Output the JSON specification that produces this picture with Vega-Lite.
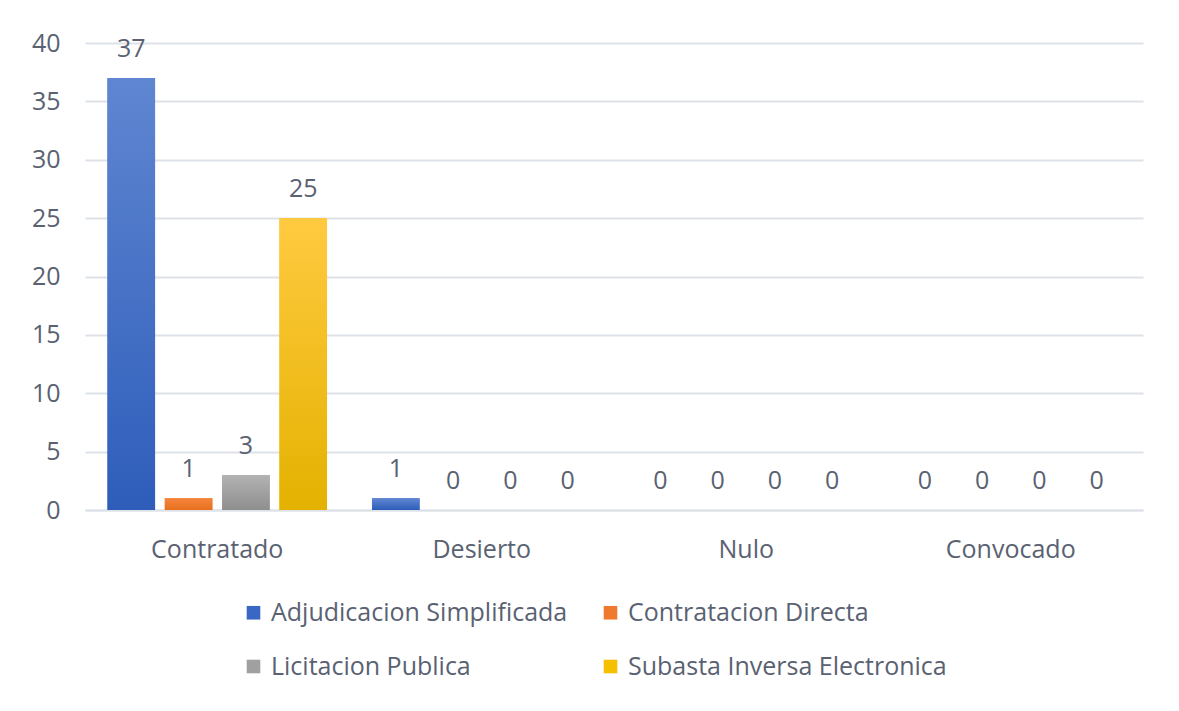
{
  "$schema": "https://vega.github.io/schema/vega-lite/v6.json",
  "width": 1058,
  "height": 467,
  "autosize": {"type": "none"},
  "padding": {"left": 85, "top": 43, "right": 36, "bottom": 201},
  "background": "white",
  "config": {
    "view": {"stroke": null},
    "font": "Open Sans",
    "axis": {"labelFont": "Open Sans", "labelFontSize": 25, "labelColor": "#5a6272"},
    "legend": {"labelFont": "Open Sans", "labelFontSize": 25, "labelColor": "#5a6272"}
  },
  "data": {
    "values": [
      {"estado": "Contratado", "modalidad": "Adjudicacion Simplificada", "n": 37},
      {"estado": "Contratado", "modalidad": "Contratacion Directa", "n": 1},
      {"estado": "Contratado", "modalidad": "Licitacion Publica", "n": 3},
      {"estado": "Contratado", "modalidad": "Subasta Inversa Electronica", "n": 25},
      {"estado": "Desierto", "modalidad": "Adjudicacion Simplificada", "n": 1},
      {"estado": "Desierto", "modalidad": "Contratacion Directa", "n": 0},
      {"estado": "Desierto", "modalidad": "Licitacion Publica", "n": 0},
      {"estado": "Desierto", "modalidad": "Subasta Inversa Electronica", "n": 0},
      {"estado": "Nulo", "modalidad": "Adjudicacion Simplificada", "n": 0},
      {"estado": "Nulo", "modalidad": "Contratacion Directa", "n": 0},
      {"estado": "Nulo", "modalidad": "Licitacion Publica", "n": 0},
      {"estado": "Nulo", "modalidad": "Subasta Inversa Electronica", "n": 0},
      {"estado": "Convocado", "modalidad": "Adjudicacion Simplificada", "n": 0},
      {"estado": "Convocado", "modalidad": "Contratacion Directa", "n": 0},
      {"estado": "Convocado", "modalidad": "Licitacion Publica", "n": 0},
      {"estado": "Convocado", "modalidad": "Subasta Inversa Electronica", "n": 0}
    ]
  },
  "encoding": {
    "x": {
      "field": "estado", "type": "nominal", "sort": null, "title": null,
      "scale": {"paddingInner": 0.17, "paddingOuter": 0.085},
      "axis": {"labelAngle": 0, "ticks": false, "domain": true, "domainColor": "#dde1e8", "domainWidth": 2, "labelPadding": 27}
    },
    "xOffset": {
      "field": "modalidad", "type": "nominal", "sort": null,
      "scale": {"paddingInner": 0.17, "paddingOuter": 0}
    },
    "y": {
      "field": "n", "type": "quantitative", "title": null,
      "scale": {"domain": [0, 40], "nice": false},
      "axis": {"values": [0, 5, 10, 15, 20, 25, 30, 35, 40], "domain": false, "ticks": false, "gridColor": "#dde1e8", "gridWidth": 2, "labelPadding": 25}
    }
  },
  "layer": [
    {
      "mark": {"type": "bar"},
      "encoding": {
        "color": {
          "field": "modalidad", "type": "nominal", "sort": null, "title": null,
          "scale": {"range": ["#3a67c4", "#ef7a2f", "#a0a0a0", "#f5c000"]},
          "legend": {
            "orient": "none", "legendX": 156, "legendY": 557,
            "direction": "horizontal",
            "columns": 2, "symbolType": "square", "symbolSize": 185,
            "symbolStrokeWidth": 0, "rowPadding": 28, "columnPadding": 30,
            "labelOffset": 5, "labelLimit": 0
          }
        }
      }
    },
    {
      "transform": [{"filter": "datum.modalidad === 'Adjudicacion Simplificada'"}],
      "mark": {"type": "bar",
        "color": {"gradient": "linear", "x1": 0, "y1": 0, "x2": 0, "y2": 1,
          "stops": [{"offset": 0, "color": "#5f86d1"}, {"offset": 1, "color": "#2e5dba"}]}}
    },
    {
      "transform": [{"filter": "datum.modalidad === 'Contratacion Directa'"}],
      "mark": {"type": "bar",
        "color": {"gradient": "linear", "x1": 0, "y1": 0, "x2": 0, "y2": 1,
          "stops": [{"offset": 0, "color": "#f5843c"}, {"offset": 1, "color": "#e6701f"}]}}
    },
    {
      "transform": [{"filter": "datum.modalidad === 'Licitacion Publica'"}],
      "mark": {"type": "bar",
        "color": {"gradient": "linear", "x1": 0, "y1": 0, "x2": 0, "y2": 1,
          "stops": [{"offset": 0, "color": "#b3b3b3"}, {"offset": 1, "color": "#8e8e8e"}]}}
    },
    {
      "transform": [{"filter": "datum.modalidad === 'Subasta Inversa Electronica'"}],
      "mark": {"type": "bar",
        "color": {"gradient": "linear", "x1": 0, "y1": 0, "x2": 0, "y2": 1,
          "stops": [{"offset": 0, "color": "#ffca40"}, {"offset": 1, "color": "#e3b200"}]}}
    },
    {
      "mark": {"type": "text", "baseline": "alphabetic", "dy": -21, "fontSize": 25, "color": "#5a6272", "font": "Open Sans"},
      "encoding": {"text": {"field": "n", "type": "quantitative"}}
    }
  ]
}
